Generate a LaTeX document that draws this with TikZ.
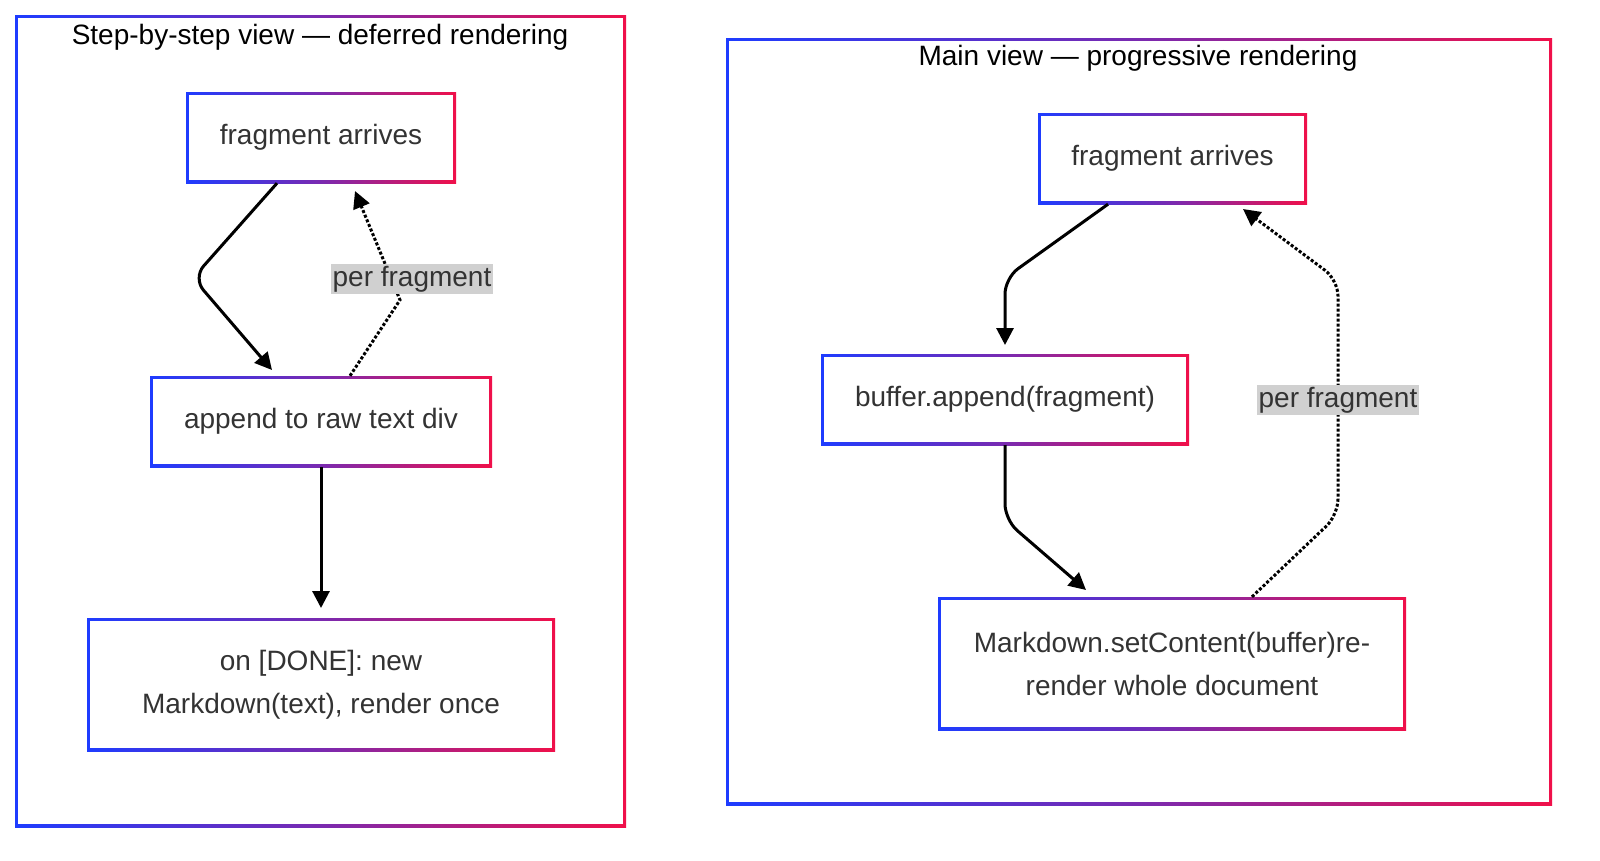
\documentclass[tikz,border=0pt]{standalone}
\usepackage{fontspec}
\setmainfont{Liberation Sans}
\usetikzlibrary{arrows.meta}
\definecolor{gb}{HTML}{1E3CFF}
\definecolor{gm}{HTML}{7A2AB0}
\definecolor{gr}{HTML}{F0104A}
\definecolor{lbl}{HTML}{D0D0D0}
\definecolor{txt}{HTML}{333333}
\begin{document}
\begin{tikzpicture}[x=1pt,y=-1pt,
  gframe/.style={left color=gb, right color=gr, middle color=gm, draw=none, inner sep=0,
    path picture={\fill[white] ([shift={(#1,#1)}]path picture bounding box.south west) rectangle ([shift={(-#1,-#1)}]path picture bounding box.north east);}},
  box/.style={gframe=3pt, font=\fontsize{28}{43}\selectfont, text=txt, align=center},
  clus/.style={gframe=3pt},
  title/.style={font=\fontsize{28}{32}\selectfont, text=black},
  arr/.style={line width=3pt, rounded corners=16pt, -{Triangle[length=17pt,width=17pt]}},
  dot/.style={arr, dotted},
  lab/.style={fill=lbl, font=\fontsize{28}{32}\selectfont, text=txt, inner sep=2pt}]
% clusters
\node[clus, minimum width=611pt, minimum height=812pt] (c1) at (320.5,421) {};
\node[title] (t1) at (320,37) {Step-by-step view — deferred rendering};
\node[clus, minimum width=826pt, minimum height=767pt] (c2) at (1139,421.5) {};
\node[title] (t2) at (1138,58) {Main view — progressive rendering};
% left nodes
\node[box, minimum width=270pt, minimum height=91pt] (a1) at (321,137.5) {fragment arrives};
\node[box, minimum width=342pt, minimum height=91pt] (a2) at (321,421.5) {append to raw text div};
\node[box, minimum width=468pt, minimum height=133pt] (a3) at (321,684.5) {on [DONE]: new\\Markdown(text), render once};
% right nodes
\node[box, minimum width=269pt, minimum height=91pt] (b1) at (1172.5,158.5) {fragment arrives};
\node[box, minimum width=368pt, minimum height=91pt] (b2) at (1005,399.5) {buffer.append(fragment)};
\node[box, minimum width=468pt, minimum height=133pt] (b3) at (1172,663.5) {Markdown.setContent(buffer)re-\\render whole document};
% left edges
\draw[arr] (a1.south -| 277,0) -- (193,278) -- (272,370);
\draw[dot, rounded corners=0] (a2.north -| 350,0) -- (400,300) -- (355,191);
\node[lab] (l1) at (412,279) {per fragment};
\draw[arr] (a2.south) -- (a3.north |- 0,608);
% right edges
\draw[arr] (b1.south -| 1108,0) -- (1005,278) -- (1005,345);
\draw[arr] (b2.south) -- (1005,520) -- (1086,590);
\draw[dot] (b3.north -| 1252,0) -- (1338,515) -- (1338,280) -- (1243,209);
\node[lab] (l2) at (1338,400) {per fragment};
\pgfresetboundingbox
\useasboundingbox (0,0) rectangle (1600,860);
\end{tikzpicture}
\end{document}
